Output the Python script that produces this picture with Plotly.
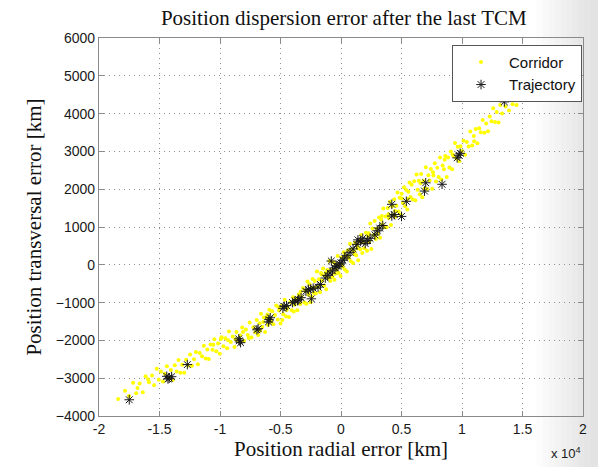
import plotly.graph_objects as go

# ---------------- data (km) ----------------
corridor_x = [
    # far left
    -18420, -17850, -17520, -17180, -16930, -16640, -16380, -16150, -15870, -15620,
    -15450, -15230, -15060, -16820, -15950,
    # -15000 .. -11000
    -14880, -14710, -14560, -14390, -14230, -14060, -13910, -13740, -13580, -13430,
    -13270, -13120, -12960, -12800, -12650, -12470, -12320, -12150, -11990, -11830,
    -11670, -11490, -11340, -11180, -11050,
    # -11000 .. -7000
    -10930, -10780, -10620, -10470, -10310, -10160, -10020, -9870, -9720, -9560,
    -9410, -9260, -9110, -8950, -8800, -8640, -8490, -8330, -8170, -8020,
    -7860, -7710, -7550, -7400, -7240, -7090, -9940, -9330, -8720, -8100,
    -7630, -10550,
    # -7000 .. -3000
    -6960, -6850, -6730, -6610, -6500, -6380, -6270, -6150, -6040, -5920,
    -5810, -5690, -5580, -5460, -5350, -5230, -5120, -5000, -4890, -4770,
    -4650, -4540, -4420, -4300, -4190, -4070, -3960, -3840, -3720, -3610,
    -3490, -3380, -3260, -3140, -3030, -6420, -5770, -5140, -4480, -3900,
    -3560, -6690, -4850, -3330, -6080,
    # -3000 .. 2000
    -2950, -2860, -2770, -2690, -2600, -2510, -2430, -2340, -2250, -2170,
    -2080, -1990, -1910, -1820, -1730, -1650, -1560, -1480, -1390, -1300,
    -1220, -1130, -1050, -960, -880, -790, -710, -620, -540, -450,
    -370, -280, -200, -110, -30, 60, 140, 230, 310, 400,
    480, 570, 650, 740, 820, 910, 990, 1080, 1160, 1250,
    1330, 1420, 1500, 1590, 1670, 1760, 1840, 1930, -2720, -2140,
    -1590, -1020, -490, 70, 590, 1110, 1650, -2400, -1270, 350,
    1380,
    # 2000 .. 6000
    2060, 2150, 2240, 2330, 2420, 2510, 2600, 2690, 2780, 2870,
    2960, 3050, 3140, 3230, 3320, 3410, 3500, 3590, 3680, 3770,
    3860, 3950, 4040, 4130, 4220, 4310, 4400, 4490, 4580, 4670,
    4760, 4850, 4940, 5030, 5120, 5210, 5300, 5390, 5480, 5570,
    5660, 5750, 5840, 5930, 2280, 2830, 3380, 3920, 4470, 5010,
    5530,
    # 6000 .. 10000
    6050, 6140, 6240, 6330, 6430, 6520, 6620, 6720, 6810, 6910,
    7010, 7110, 7220, 7320, 7430, 7530, 7640, 7750, 7850, 7960,
    8070, 8180, 8290, 8400, 8510, 8620, 8740, 8850, 8960, 9070,
    9180, 9300, 9420, 9530, 9650, 9770, 9880, 9990, 6580, 7600,
    8560, 9230,
    # 10000 .. 15300
    10120, 10260, 10400, 10550, 10690, 10840, 10980, 11130, 11270, 11420,
    11560, 11710, 11850, 12000, 12150, 12290, 12440, 12580, 12730, 12870,
    13020, 13160, 13310, 13450, 13600, 13740, 13880, 14030, 14180, 14340,
    14510, 14690, 14880, 15070, 15260, 13690, 11000,
]
corridor_y = [
    # far left
    -3550, -3330, -3470, -3120, -3395, -3140, -3370, -2950, -3105, -2930,
    -3185, -2750, -3040, -3260, -3025,
    # -15000 .. -11000
    -2820, -3090, -2880, -2685, -2985, -2785, -3050, -2660, -2825, -2520,
    -2855, -2645, -2855, -2515, -2665, -2375, -2670, -2500, -2310, -2630,
    -2335, -2420, -2140, -2480, -2240,
    # -11000 .. -7000
    -2495, -2110, -2250, -1970, -2290, -2080, -2350, -1915, -2155, -1940,
    -2210, -1765, -2045, -1900, -2175, -1780, -2020, -1870, -1660, -2010,
    -1710, -1860, -1525, -1925, -1650, -1785, -1965, -1995, -1970, -1775,
    -1935, -2115,
    # -7000 .. -3000
    -1460, -1855, -1545, -1295, -1645, -1395, -1775, -1390, -1590, -1190,
    -1445, -1230, -1575, -1330, -1080, -1450, -1210, -1550, -1080, -1310,
    -925, -1370, -1120, -1380, -985, -1200, -860, -1055, -900, -1205,
    -785, -1040, -855, -615, -995, -1510, -1515, -1125, -1195, -1235,
    -890, -1745, -1460, -710, -1315,
    # -3000 .. 2000
    -695, -1030, -445, -795, -515, -990, -605, -375, -740, -430,
    -760, -175, -590, -385, -725, -215, -425, -100, -545, -305,
    -645, -140, -350, 100, -430, -140, -320, 65, -395, 10,
    -135, 235, -215, 10, -295, 195, -50, 335, -125, 205,
    -180, 385, 175, 560, 95, 405, 50, 360, 585, 250,
    490, 120, 630, 410, 790, 315, 605, 435, -715, -600,
    -255, -165, -235, 20, 225, 280, 605, -845, -210, 245,
    435,
    # 2000 .. 6000
    850, 370, 760, 600, 1090, 420, 960, 790, 1160, 680,
    955, 820, 1250, 715, 1190, 1070, 1490, 995, 1275, 995,
    1505, 1235, 1665, 1050, 1550, 1310, 1735, 1270, 1565, 1910,
    1410, 1775, 1325, 1755, 1635, 2050, 1550, 1980, 1465, 1935,
    2180, 1795, 2115, 1730, 835, 775, 1290, 1340, 1420, 1880,
    1750,
    # 6000 .. 10000
    2210, 1710, 2390, 1985, 2225, 1865, 2405, 1785, 2220, 2020,
    2580, 2005, 2370, 2230, 2535, 2015, 2360, 2685, 2205, 2570,
    2325, 2840, 2255, 2630, 2525, 2880, 2325, 2840, 2575, 3000,
    2525, 2880, 3220, 2810, 3125, 2740, 3135, 3010, 2155, 2450,
    2780, 2920,
    # 10000 .. 15300
    3285, 2910, 3250, 3130, 3525, 3155, 3405, 3590, 3215, 3615,
    3505, 3830, 3495, 3740, 3535, 3925, 3800, 4140, 3780, 4045,
    3765, 4225, 4000, 4375, 4185, 4545, 4080, 4395, 4250, 4535,
    4225, 4460, 4370, 4575, 4455, 4590, 3270,
]

trajectory_x = [
    -17500, -14400, -14200, -14000, -14300, -12700, -8450, -8300, -8400, -6950,
    -6850, -5950, -5850, -6000, -4800, -4700, -4500, -4000, -3800, -3600,
    -3500, -3300, -2900, -2700, -2500, -2450, -2300, -1900, -1700, -1300,
    -1100, -900, -700, -500, -400, -250, -100, 0, 150, 300,
    500, 750, -800, 1000, 1300, 1400, 1600, 1800, 2000, 2200,
    2400, 2800, 3000, 3200, 3450, 4200, 4400, 5000, 4200, 5400,
    6900, 7000, 8350, 9600, 9750, 9850, 13500,
]
trajectory_y = [
    -3570, -2950, -3000, -2960, -3020, -2640, -1960, -2060, -2010, -1720,
    -1690, -1450, -1400, -1510, -1150, -1100, -1080, -1000, -960, -950,
    -920, -870, -700, -650, -640, -900, -620, -590, -520, -350,
    -280, -220, -160, -80, -30, -40, 20, 50, 120, 180,
    250, 330, 100, 420, 540, 660, 620, 700, 560, 640,
    700, 790, 900, 970, 1040, 1290, 1330, 1280, 1600, 1680,
    1950, 2170, 2130, 2830, 2900, 2950, 4310,
]

x_tick_vals = [-20000, -15000, -10000, -5000, 0, 5000, 10000, 15000, 20000]
x_tick_text = ["-2", "-1.5", "-1", "-0.5", "0", "0.5", "1", "1.5", "2"]
y_tick_vals = [-4000, -3000, -2000, -1000, 0, 1000, 2000, 3000, 4000, 5000, 6000]

# ---------------- figure ----------------
fig = go.Figure()

fig.add_trace(go.Scatter(
    x=corridor_x, y=corridor_y, mode="markers", name="Corridor",
    marker=dict(symbol="circle", size=4, color="#FFFF00", line=dict(width=0)),
))
fig.add_trace(go.Scatter(
    x=trajectory_x, y=trajectory_y, mode="markers", name="Trajectory",
    marker=dict(symbol="asterisk-open", size=8, color="#1a1a1a",
                line=dict(width=1, color="#1a1a1a")),
))

# soft grey shading on the right edge of the slide
shapes = []
greys = [252, 249, 246, 243, 240, 237, 234, 231, 229, 227]
x0 = 540
step = 6
for i, g in enumerate(greys):
    shapes.append(dict(
        type="rect", xref="paper", yref="paper", layer="below",
        x0=(x0 + i * step - 99) / 488,
        x1=(x0 + (i + 1) * step - 99) / 488 if i < len(greys) - 1 else 2,
        y0=-1, y1=2, line=dict(width=0), fillcolor=f"rgb({g},{g},{g})",
    ))

axis_common = dict(
    showline=True, linecolor="#8a8a8a", linewidth=1.2, mirror="ticks",
    ticks="inside", ticklen=5, tickcolor="#8a8a8a",
    showgrid=True, gridcolor="#8f8f8f", griddash="1px,4px", gridwidth=1,
    zeroline=False,
    tickfont=dict(family="Liberation Sans, Arial", size=14, color="#1a1a1a"),
)

fig.update_layout(
    width=598, height=467,
    margin=dict(l=99, r=11, t=38, b=48),
    paper_bgcolor="white", plot_bgcolor="rgba(0,0,0,0)",
    shapes=shapes,
    title=dict(text="Position dispersion error after the last TCM",
               font=dict(family="Liberation Serif, Times New Roman", size=21, color="#111111"),
               x=0.575, xanchor="center", y=0.963, yanchor="middle"),
    xaxis=dict(range=[-20000, 20000], tickvals=x_tick_vals, ticktext=x_tick_text,
               title=dict(text="Position radial error [km]", standoff=4,
                          font=dict(family="Liberation Serif, Times New Roman", size=21, color="#111111")),
               **axis_common),
    yaxis=dict(range=[-4000, 6000], tickvals=y_tick_vals,
               title=dict(text="Position transversal error [km]", standoff=8,
                          font=dict(family="Liberation Serif, Times New Roman", size=21, color="#111111")),
               **axis_common),
    legend=dict(x=0.998, y=0.982, xanchor="right", yanchor="top",
                bgcolor="white", bordercolor="#555555", borderwidth=1,
                font=dict(family="Liberation Sans, Arial", size=15, color="#111111"),
                itemwidth=46, tracegroupgap=0),
    showlegend=True,
    annotations=[dict(text="x 10<sup>4</sup>", xref="paper", yref="paper",
                      x=1.0, y=-0.098, xanchor="right", yanchor="middle", showarrow=False,
                      font=dict(family="Liberation Sans, Arial", size=13, color="#1a1a1a"))],
)

fig.write_html("out.html")
